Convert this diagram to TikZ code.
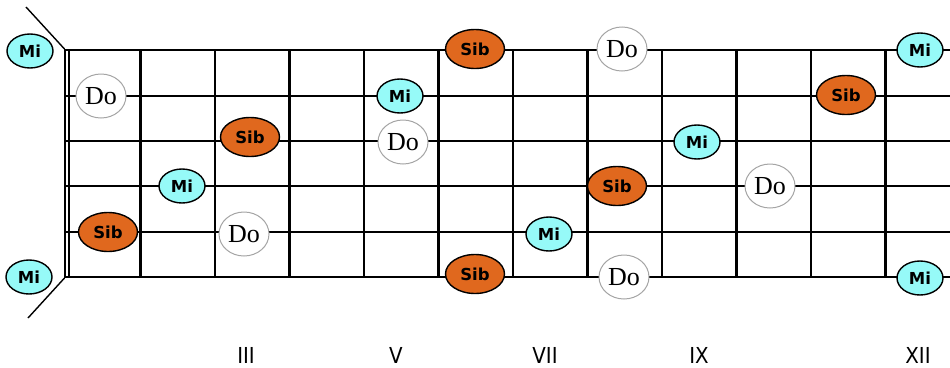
\documentclass[tikz,border=0pt]{standalone}
\usepackage{fontspec}
\setmainfont{Liberation Serif}
\newfontfamily\notefont{DejaVu Sans}
\newfontfamily\numfont{DejaVu Sans Condensed}
\usetikzlibrary{shapes.geometric}
\definecolor{micol}{RGB}{150,250,248}
\definecolor{sibcol}{RGB}{224,104,30}
\definecolor{docol}{RGB}{165,165,165}
\tikzset{
  wire/.style={line width=2.8pt},
  nutline/.style={line width=2pt},
  mi/.style={ellipse, draw=black, line width=1.4pt, fill=micol, minimum width=46pt, minimum height=34pt, inner sep=0pt, font=\notefont\bfseries\fontsize{16.5}{16.5}\selectfont},
  sib/.style={ellipse, draw=black, line width=1.4pt, fill=sibcol, minimum width=59pt, minimum height=39pt, inner sep=0pt, font=\notefont\bfseries\fontsize{16.5}{16.5}\selectfont},
  do/.style={ellipse, draw=docol, line width=1pt, fill=white, minimum width=50pt, minimum height=44pt, inner sep=0pt, font=\fontsize{26}{26}\selectfont},
  fretnum/.style={font=\numfont\fontsize{22}{22}\selectfont, inner sep=0pt}
}
\begin{document}
\begin{tikzpicture}[x=1pt,y=-1pt]
\useasboundingbox (0,0) rectangle (950,367);
% strings
\foreach \s/\y in {1/50,2/96,3/141,4/186,5/232,6/277}{
  \coordinate (sl\s) at (64,\y);
  \coordinate (sr\s) at (950,\y);
  \draw[wire] (sl\s) -- (sr\s);
}
% frets
\foreach \k in {1,...,11}{
  \coordinate (ft\k) at ({66+74.5*\k},50);
  \coordinate (fb\k) at ({66+74.5*\k},277);
  \draw[wire] (ft\k) -- (fb\k);
}
% nut
\coordinate (n1t) at (64.5,49);
\coordinate (n1b) at (64.5,278);
\coordinate (n2t) at (69,49);
\coordinate (n2b) at (69,278);
\draw[nutline] (n1t) -- (n1b);
\draw[nutline] (n2t) -- (n2b);
% diagonal lines
\coordinate (dt) at (26,7);
\coordinate (db) at (28,318);
\draw[line width=1.4pt] (dt) -- (n1t);
\draw[line width=1.4pt] (db) -- (n1b);
% Mi notes
\node[mi] (mi1) at (30,51) {Mi};
\node[mi] (mi2) at (29,277) {Mi};
\node[mi] (mi3) at (400,96) {Mi};
\node[mi] (mi4) at (182,186) {Mi};
\node[mi] (mi5) at (697,142) {Mi};
\node[mi] (mi6) at (549,234) {Mi};
\node[mi] (mi7) at (920,50) {Mi};
\node[mi] (mi8) at (920,278) {Mi};
% Sib notes
\node[sib] (sib1) at (475,49) {Sib};
\node[sib] (sib2) at (250,137) {Sib};
\node[sib] (sib3) at (108,232) {Sib};
\node[sib] (sib4) at (475,274) {Sib};
\node[sib] (sib5) at (617,186) {Sib};
\node[sib] (sib6) at (846,95) {Sib};
% Do notes
\node[do] (do1) at (101,96) {Do};
\node[do] (do2) at (403,142) {Do};
\node[do] (do3) at (244,234) {Do};
\node[do] (do4) at (622,49) {Do};
\node[do] (do5) at (770,186) {Do};
\node[do] (do6) at (624,277) {Do};
% fret numbers
\node[fretnum] (f3) at (246,355) {III};
\node[fretnum] (f5) at (396,355) {V};
\node[fretnum] (f7) at (545,355) {VII};
\node[fretnum] (f9) at (699,355) {IX};
\node[fretnum] (f12) at (918,355) {XII};
\end{tikzpicture}
\end{document}
